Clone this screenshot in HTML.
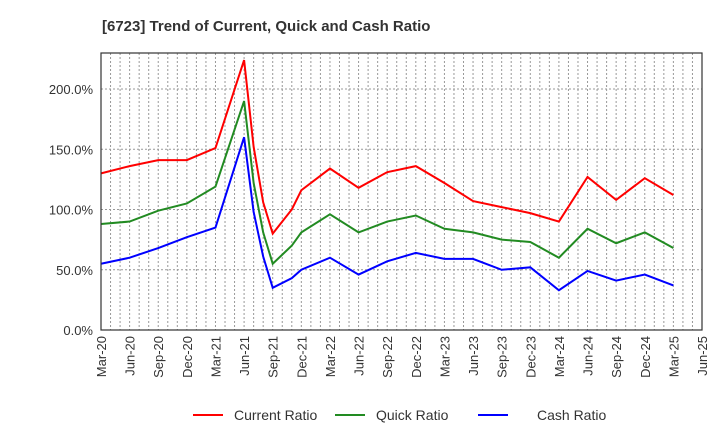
<!DOCTYPE html>
<html><head><meta charset="utf-8"><style>
body{margin:0;background:#fff;font-family:"Liberation Sans",sans-serif}
svg{display:block}
</style></head><body>
<svg id="c" width="720" height="440" xmlns="http://www.w3.org/2000/svg">
<text x="102" y="31" font-size="15" font-weight="bold" fill="#333">[6723]  Trend of Current, Quick and Cash Ratio</text>
<g id="grid"></g><g id="series"></g><g id="axes"></g>
<g font-size="14" fill="#333">
<line x1="193" y1="415" x2="223" y2="415" stroke="#f00" stroke-width="2"/><text x="234" y="420">Current Ratio</text>
<line x1="335" y1="415" x2="365" y2="415" stroke="#228b22" stroke-width="2"/><text x="376" y="420">Quick Ratio</text>
<line x1="478" y1="415" x2="508" y2="415" stroke="#00f" stroke-width="2"/><text x="537" y="420">Cash Ratio</text>
</g>
</svg>
<script>
const months=[0,3,6,9,12,15,16,17,18,20,21,24,27,30,33,36,39,42,45,48,51,54,57,60];
const currentRatio=[130,136,141,141,151,224,152,106,80,100,116,134,118,131,136,122,107,102,97,90,127,108,126,112];
const quickRatio=[88,90,99,105,119,190,122,81,55,70,81,96,81,90,95,84,81,75,73,60,84,72,81,68];
const cashRatio=[55,60,68,77,85,160,98,61,35,43,50,60,46,57,64,59,59,50,52,33,49,41,46,37];
const tickLabels=["Mar-20","Jun-20","Sep-20","Dec-20","Mar-21","Jun-21","Sep-21","Dec-21","Mar-22","Jun-22","Sep-22","Dec-22","Mar-23","Jun-23","Sep-23","Dec-23","Mar-24","Jun-24","Sep-24","Dec-24","Mar-25","Jun-25"];
const yTicks=[0,50,100,150,200];
const L=101,R=702,T=53,B=330,NM=63;
const x=m=>L+(R-L)*m/NM, y=v=>B-v*1.205;
const NS="http://www.w3.org/2000/svg";
function mk(t,a,p){const e=document.createElementNS(NS,t);for(const k in a)e.setAttribute(k,a[k]);p.appendChild(e);return e;}
const g=document.getElementById('grid'),ax=document.getElementById('axes'),s=document.getElementById('series');
for(let m=1;m<NM;m++){const l=mk('line',{x1:x(m),x2:x(m),y1:T,y2:B,stroke:'#999','stroke-dasharray':'2,2','stroke-width':1},g);

}
yTicks.forEach(v=>{const l=mk('line',{x1:L,x2:R,y1:y(v),y2:y(v),stroke:'#999','stroke-dasharray':'2,2'},g);


const t=mk('text',{x:L-8,y:y(v)+5,'text-anchor':'end','font-size':13,fill:'#333'},ax);t.textContent=v.toFixed(1)+'%';

});
tickLabels.forEach((lb,i)=>{const xx=x(i*3);const t=mk('text',{x:0,y:0,'text-anchor':'end','font-size':13,fill:'#333',transform:`translate(${xx+5},${B+6}) rotate(-90)`},ax);t.textContent=lb;

});
const fr=mk('rect',{x:L,y:T,width:R-L,height:B-T,fill:'none',stroke:'#333','stroke-width':1.2},ax);


[[currentRatio,'#f00','current-ratio-line'],[quickRatio,'#228b22','quick-ratio-line'],[cashRatio,'#00f','cash-ratio-line']].forEach(([d,c,n])=>{
const p=mk('polyline',{points:d.map((v,i)=>x(months[i])+','+y(v)).join(' '),fill:'none',stroke:c,'stroke-width':2},s);

});
</script>
</body></html>
